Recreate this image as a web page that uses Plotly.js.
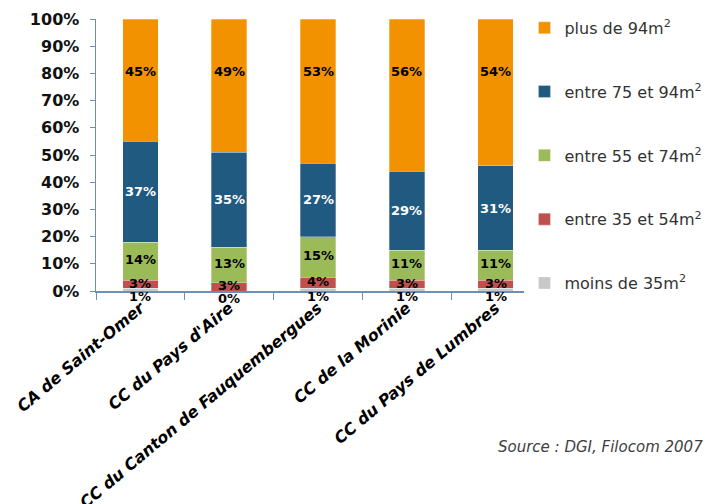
<!DOCTYPE html>
<html><head><meta charset="utf-8">
<script src="https://cdn.plot.ly/plotly-3.0.1.min.js"></script>
<style>html,body{margin:0;padding:0;background:#fff}#chart{width:717px;height:504px}</style>
</head><body><div id="chart"></div>
<script>
const categories = ["CA de Saint-Omer", "CC du Pays d'Aire", "CC du Canton de Fauquembergues", "CC de la Morinie", "CC du Pays de Lumbres"];
const seriesNames = ["moins de 35m<sup>2</sup>", "entre 35 et 54m<sup>2</sup>", "entre 55 et 74m<sup>2</sup>", "entre 75 et 94m<sup>2</sup>", "plus de 94m<sup>2</sup>"];
const moins35 = [1, 0, 1, 1, 1];
const entre35_54 = [3, 3, 4, 3, 3];
const entre55_74 = [14, 13, 15, 11, 11];
const entre75_94 = [37, 35, 27, 29, 31];
const plus94 = [45, 49, 53, 56, 54];
const yTicks = [0, 10, 20, 30, 40, 50, 60, 70, 80, 90, 100];

const series = [moins35, entre35_54, entre55_74, entre75_94, plus94];
const colors = ["#c8c8c8", "#c0504d", "#9bbb59", "#215a80", "#f39200"];
const labelColors = ["#000", "#000", "#000", "#fff", "#000"];
const labelShift = [-7, 1, 2, 0, null];

const traces = series.map((vals, i) => ({
  type: "bar", x: categories, y: vals, name: seriesNames[i],
  marker: {color: colors[i], line: {color: "rgba(255,255,255,0.6)", width: 0.5}},
  legendgroup: "g" + i, legendrank: 100 - i * 10, hoverinfo: "skip"
}));

const annotations = [];
const base = categories.map(() => 0);
series.forEach((vals, i) => {
  vals.forEach((v, j) => {
    const mid = base[j] + v / 2;
    const top = base[j] + v;
    const isTop = i === series.length - 1;
    annotations.push({
      x: categories[j], y: isTop ? top : mid, xref: "x", yref: "y",
      text: v + "%", showarrow: false,
      yshift: isTop ? -52 : labelShift[i],
      font: {family: "DejaVu Sans", size: 13, color: labelColors[i], weight: "bold"}
    });
    base[j] += v;
  });
});
annotations.push({
  xref: "paper", yref: "paper", x: 1.372, y: -0.575, xanchor: "right", yanchor: "middle",
  text: "Source : DGI, Filocom 2007", showarrow: false,
  font: {family: "DejaVu Sans", size: 15, color: "#404040", style: "italic"}
});

const layout = {
  width: 717, height: 504,
  margin: {l: 96, r: 177, t: 19, b: 213, autoexpand: false},
  barmode: "stack", bargap: 0.6,
  paper_bgcolor: "#fff", plot_bgcolor: "#fff",
  showlegend: true,
  legend: {x: 0.965, y: 1.03, xanchor: "left", yanchor: "top", traceorder: "grouped",
    tracegroupgap: 40, maxheight: 480, font: {family: "DejaVu Sans", size: 16, color: "#333"}},
  xaxis: {type: "category", range: [-0.5, 4.5], showline: true, linecolor: "#6b8fb5", linewidth: 1.5,
    ticks: "outside", tickson: "boundaries", ticklen: 7, tickcolor: "#6b8fb5", tickangle: -40,
    showgrid: false, zeroline: false,
    tickfont: {family: "DejaVu Sans", size: 16, color: "#000", weight: "bold", style: "italic"}},
  yaxis: {range: [0, 100], tickvals: yTicks, ticktext: yTicks.map(t => t + "%"),
    showline: true, linecolor: "#6b8fb5", linewidth: 1.5, ticks: "outside", ticklen: 5,
    tickcolor: "#6b8fb5", showgrid: false, zeroline: false, ticklabelstandoff: 7,
    tickfont: {family: "DejaVu Sans", size: 16, color: "#111", weight: "bold"}},
  annotations: annotations
};
Plotly.newPlot("chart", traces, layout, {displayModeBar: false, staticPlot: true});
</script></body></html>
